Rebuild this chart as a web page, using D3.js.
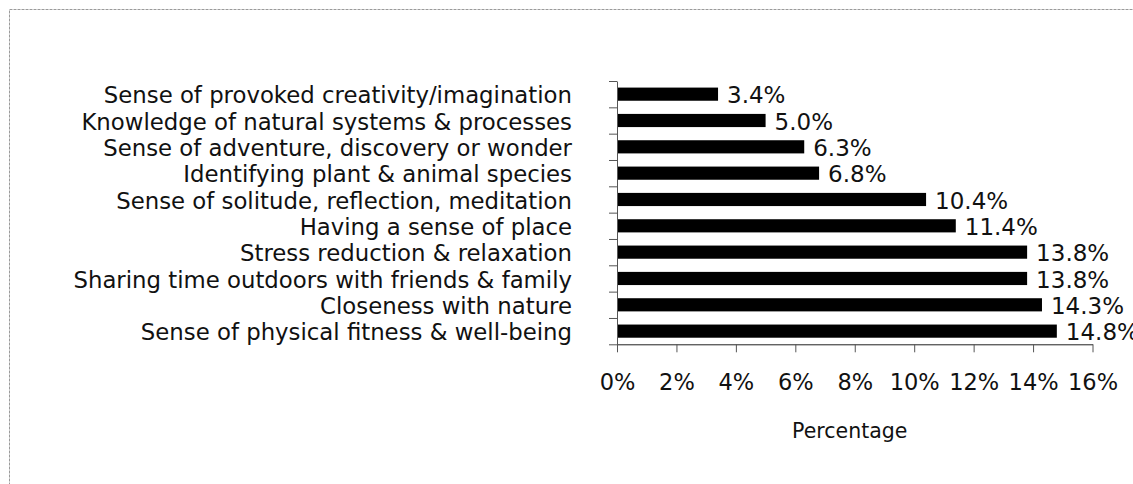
<!DOCTYPE html>
<html>
<head>
<meta charset="utf-8">
<script src="https://cdn.jsdelivr.net/npm/d3@7"></script>
<style>
  html, body { margin: 0; padding: 0; background: #fff; }
  svg { display: block; }
  text { font-family: "DejaVu Sans", sans-serif; fill: #111; }
</style>
</head>
<body>
<svg id="chart" width="1133" height="484"></svg>
<script>
// Benefits of time outdoors, share of responses
const categories = [
  "Sense of provoked creativity/imagination",
  "Knowledge of natural systems & processes",
  "Sense of adventure, discovery or wonder",
  "Identifying plant & animal species",
  "Sense of solitude, reflection, meditation",
  "Having a sense of place",
  "Stress reduction & relaxation",
  "Sharing time outdoors with friends & family",
  "Closeness with nature",
  "Sense of physical fitness & well-being"
];
const values = [3.4, 5.0, 6.3, 6.8, 10.4, 11.4, 13.8, 13.8, 14.3, 14.8];
const xTicks = [0, 2, 4, 6, 8, 10, 12, 14, 16];
const xTitle = "Percentage";

const svg = d3.select("#chart");

// frame around the chart area
svg.append("rect")
  .attr("x", 9.5).attr("y", 9.5)
  .attr("width", 1140).attr("height", 500)
  .attr("fill", "none")
  .attr("stroke", "#9a9a9a")
  .attr("stroke-width", 1)
  .attr("stroke-dasharray", "3,1");

const plot = { left: 617, right: 1092.5, top: 81, bottom: 344.3 };

const x = d3.scaleLinear().domain([0, 16]).range([plot.left, plot.right]);
const y = d3.scaleBand()
  .domain(categories)
  .range([plot.top, plot.bottom])
  .paddingInner(0.5)
  .paddingOuter(0.25);

// bars
svg.append("g").selectAll("rect")
  .data(categories)
  .join("rect")
  .attr("x", x(0))
  .attr("y", d => y(d))
  .attr("width", (d, i) => x(values[i]) - x(0))
  .attr("height", y.bandwidth())
  .attr("fill", "#000");

// value labels
svg.append("g").selectAll("text")
  .data(categories)
  .join("text")
  .attr("x", (d, i) => x(values[i]) + 9)
  .attr("y", d => y(d) + y.bandwidth() / 2)
  .attr("dy", "0.4em")
  .attr("font-size", 23)
  .text((d, i) => values[i].toFixed(1) + "%");

// category labels
svg.append("g").selectAll("text")
  .data(categories)
  .join("text")
  .attr("x", 572)
  .attr("y", d => y(d) + y.bandwidth() / 2)
  .attr("dy", "0.4em")
  .attr("text-anchor", "end")
  .attr("font-size", 22.8)
  .text(d => d);

// y axis: ticks on the category boundaries
const yEdge = d3.scaleLinear().domain([0, categories.length]).range([plot.top, plot.bottom]);
const yAxis = svg.append("g")
  .attr("transform", `translate(${plot.left},0)`)
  .call(d3.axisLeft(yEdge)
    .tickValues(d3.range(0, categories.length + 1))
    .tickSize(8)
    .tickSizeOuter(0)
    .tickFormat(""));
yAxis.selectAll("path, line").attr("stroke", "#555");

// x axis
const xAxis = svg.append("g")
  .attr("transform", `translate(0,${plot.bottom})`)
  .call(d3.axisBottom(x)
    .tickValues(xTicks)
    .tickSize(8)
    .tickSizeOuter(0)
    .tickPadding(22)
    .tickFormat(d => d + "%"));
xAxis.select(".domain").attr("stroke", "#222");
xAxis.selectAll(".tick line").attr("stroke", "#555");
xAxis.selectAll("text")
  .attr("font-size", 22.5)
  .attr("font-family", "DejaVu Sans, sans-serif")
  .attr("fill", "#111");

// axis title
svg.append("text")
  .attr("x", (plot.left + plot.right) / 2 - 5)
  .attr("y", 438)
  .attr("text-anchor", "middle")
  .attr("font-size", 20.5)
  .text(xTitle);
</script>
</body>
</html>
